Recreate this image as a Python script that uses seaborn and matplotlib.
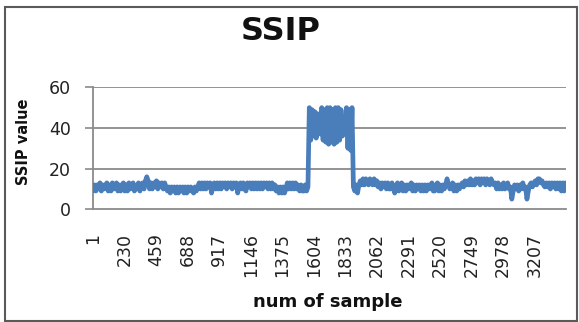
import numpy as np
import pandas as pd
import matplotlib
matplotlib.use("Agg")
import matplotlib.pyplot as plt
from matplotlib.patches import Rectangle
import seaborn as sns

# SSIP reading taken every 10th sample of the recording
first_sample = 1
sample_step = 10
n_samples = 3434

ssip_values = [
    9, 12, 9, 12, 10, 13, 9, 12, 10, 12, 13, 9, 12, 9, 13, 10, 12, 13, 9, 12,
    9, 12, 13, 9, 12, 9, 13, 10, 12, 13, 9, 10, 12, 13, 9, 12, 13, 10, 14, 16,
    14, 10, 13, 10, 13, 11, 14, 10, 13, 11, 13, 10, 13, 11, 9, 11, 8, 11, 9, 11,
    8, 11, 8, 11, 9, 11, 8, 11, 8, 11, 9, 11, 9, 8, 11, 9, 11, 13, 10, 13,
    10, 13, 10, 13, 11, 13, 8, 12, 13, 10, 13, 10, 13, 10, 13, 11, 13, 10, 13, 11,
    13, 10, 13, 11, 13, 8, 12, 13, 10, 13, 10, 9, 13, 11, 13, 10, 13, 10, 13, 10,
    13, 10, 13, 10, 13, 11, 13, 10, 13, 10, 13, 10, 12, 9, 11, 8, 11, 8, 11, 8,
    10, 13, 10, 13, 10, 13, 10, 13, 10, 12, 9, 12, 9, 9, 12, 9, 11, 50, 34, 49,
    36, 48, 35, 47, 41, 37, 50, 34, 49, 33, 50, 32, 50, 33, 49, 32, 50, 33, 50, 34,
    49, 36, 42, 37, 50, 30, 49, 29, 50, 11, 9, 12, 8, 12, 14, 12, 15, 12, 15, 13,
    12, 15, 13, 12, 15, 12, 14, 11, 13, 10, 13, 11, 13, 10, 13, 10, 10, 13, 11, 8,
    11, 13, 9, 11, 13, 9, 12, 9, 12, 10, 12, 13, 9, 12, 9, 12, 10, 12, 9, 12,
    9, 12, 9, 12, 10, 12, 13, 9, 9, 12, 13, 9, 12, 9, 12, 10, 12, 15, 12, 10,
    11, 13, 9, 12, 9, 12, 10, 12, 13, 11, 14, 12, 14, 12, 15, 12, 14, 12, 15, 13,
    15, 12, 15, 13, 15, 12, 15, 13, 12, 15, 13, 12, 13, 10, 13, 10, 12, 10, 13, 10,
    11, 13, 10, 11, 5, 9, 12, 10, 12, 9, 12, 10, 13, 10, 11, 5, 9, 12, 13, 11,
    13, 14, 12, 15, 15, 13, 14, 12, 11, 13, 11, 13, 10, 13, 11, 13, 10, 13, 10, 13,
    9, 13, 9, 13,
]

x_tick_labels = [1, 230, 459, 688, 917, 1146, 1375, 1604, 1833,
                 2062, 2291, 2520, 2749, 2978, 3207]
y_ticks = [0, 20, 40, 60]

df = pd.DataFrame({
    "sample": first_sample + sample_step * np.arange(len(ssip_values)),
    "ssip": ssip_values,
})

sns.set_style("white")
plt.rcParams["font.family"] = ["DejaVu Sans"]
plt.rcParams["path.simplify"] = False

W, H = 579, 322
fig = plt.figure(figsize=(W / 100, H / 100), dpi=100)
ax = fig.add_axes([93 / W, 1 - 209.3 / H, 473 / W, 122 / H])

grid_col = "#8a8a8a"
for yv in y_ticks[1:]:
    ax.axhline(yv, color=grid_col, lw=1.3, zorder=0)

sns.lineplot(data=df, x="sample", y="ssip", color="#4a7ebb", linewidth=3.4,
             estimator=None, sort=False, ax=ax, zorder=3)
for line in ax.get_lines():
    line.set_solid_joinstyle("round")

ax.set_xlim(0.5, n_samples + 0.5)
ax.set_ylim(0, 60)
ax.set_yticks(y_ticks)
ax.set_xticks(x_tick_labels)
ax.set_xticklabels([str(v) for v in x_tick_labels], rotation=90,
                   fontsize=12.5, color="#222222")
ax.set_yticklabels([str(v) for v in y_ticks], fontsize=12.5, color="#222222")
ax.tick_params(axis="y", length=6, width=1.2, color=grid_col, pad=10, left=True)
ax.tick_params(axis="x", length=0, pad=17)
for lab in ax.get_xticklabels():
    lab.set_verticalalignment("top")
ax.set_xlabel("")
ax.set_ylabel("")

for side in ("top", "right"):
    ax.spines[side].set_visible(False)
for side in ("left", "bottom"):
    ax.spines[side].set_color(grid_col)
    ax.spines[side].set_linewidth(1.3)

fig.text(281 / W, 1 - 31 / H, "SSIP", ha="center", va="center",
         fontsize=23, fontweight="bold", color="#111111")
fig.text(24 / W, 1 - 142 / H, "SSIP value", ha="center", va="center",
         rotation=90, fontsize=10.5, fontweight="bold", color="#111111")
fig.text(328 / W, 1 - 302 / H, "num of sample", ha="center", va="center",
         fontsize=13, fontweight="bold", color="#111111")

fig.add_artist(Rectangle((4.5 / W, 1 - 320.5 / H), 572.5 / W, 314 / H,
                         transform=fig.transFigure, fill=False,
                         edgecolor="#5a5a5a", linewidth=1.5))

fig.savefig("out.png", dpi=100)
